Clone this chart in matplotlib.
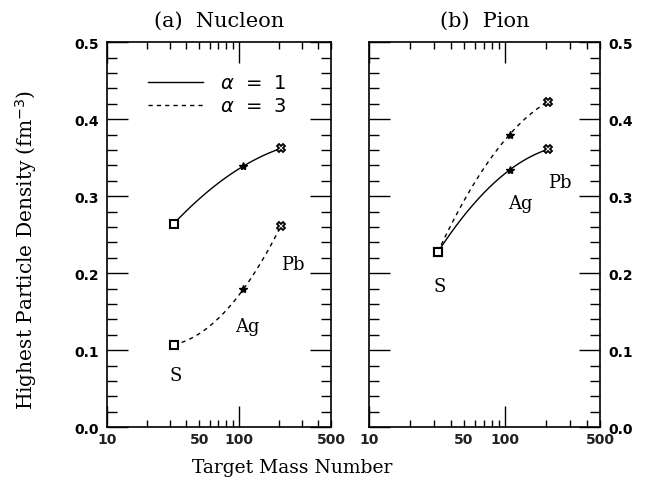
import numpy as np
import matplotlib
matplotlib.use("Agg")
import matplotlib.pyplot as plt
from matplotlib.ticker import FixedLocator, NullFormatter

targets = ["S", "Ag", "Pb"]
mass = [32, 108, 208]
nucleon_a1 = [0.264, 0.339, 0.362]
nucleon_a3 = [0.107, 0.179, 0.261]
pion_a1 = [0.227, 0.334, 0.361]
pion_a3 = [0.227, 0.380, 0.423]

x_major = [10, 100]
x_minor = [20, 30, 40, 50, 60, 70, 80, 90, 200, 300, 400, 500]
x_labels = [10, 50, 100, 500]

serif = ["DejaVu Serif"]
sans = ["DejaVu Sans"]

fig = plt.figure(figsize=(6.46, 4.81), dpi=100)
axL = fig.add_axes([0.1656, 0.110, 0.3468, 0.800])
axR = fig.add_axes([0.5712, 0.110, 0.3576, 0.800])


def smooth(ax, xs, ys, ls):
    lx = np.log10(xs)
    c = np.polyfit(lx, ys, 2)
    xx = np.linspace(lx[0], lx[-1], 100)
    ax.plot(10 ** xx, np.polyval(c, xx), color="black", lw=1.0, ls=ls)
    ax.plot(xs[0], ys[0], marker="s", ms=5.5, mfc="white", mec="black", mew=1.5, ls="none")
    ax.plot(xs[1], ys[1], marker="*", ms=6, color="black", ls="none")
    ax.plot(xs[2], ys[2], marker="X", ms=6, mfc="white", mec="black", mew=1.3, ls="none")


smooth(axL, mass, nucleon_a1, "-")
smooth(axL, mass, nucleon_a3, (0, (3, 3)))
smooth(axR, mass, pion_a1, "-")
smooth(axR, mass, pion_a3, (0, (3, 3)))

for ax in (axL, axR):
    ax.set_xscale("log")
    ax.set_xlim(10, 500)
    ax.set_ylim(0, 0.5)
    ax.xaxis.set_major_locator(FixedLocator(x_major))
    ax.xaxis.set_minor_locator(FixedLocator(x_minor))
    ax.xaxis.set_major_formatter(NullFormatter())
    ax.xaxis.set_minor_formatter(NullFormatter())
    ax.set_yticks(np.arange(0, 0.51, 0.1))
    ax.set_yticks(np.arange(0, 0.51, 0.02), minor=True)
    ax.tick_params(which="major", direction="in", length=15, width=1.0,
                   top=True, right=True, bottom=True, left=True)
    ax.tick_params(which="minor", direction="in", length=7, width=1.0,
                   top=True, right=True, bottom=True, left=True)
    ax.tick_params(axis="x", which="minor", length=5)
    for s in ax.spines.values():
        s.set_linewidth(1.2)
    for xv in x_labels:
        ax.text(xv, -0.013, str(xv), ha="center", va="top", fontsize=10,
                fontweight="bold", family=sans, transform=ax.get_xaxis_transform(),
                color="#222222")

ylabs = [f"{v:.1f}" for v in np.arange(0, 0.51, 0.1)]
axL.set_yticklabels(ylabs, fontsize=10, fontweight="bold", family=sans)
axL.tick_params(axis="y", labelleft=True, labelright=False, pad=6)
axR.tick_params(axis="y", labelleft=False, labelright=True, pad=6)
axR.set_yticklabels(ylabs, fontsize=10, fontweight="bold", family=sans)

axL.set_title("(a)  Nucleon", fontsize=15, family=serif, pad=12)
axR.set_title("(b)  Pion", fontsize=15, family=serif, pad=12)

axL.set_ylabel("Highest Particle Density (fm$^{-3}$)", fontsize=14.5, family=serif, labelpad=25)
axL.yaxis.label.set_y(0.462)
fig.text(0.452, 0.028, "Target Mass Number", ha="center", va="center", fontsize=13.5, family=serif)

# legend
axL.plot([20.5, 53.5], [0.448, 0.448], color="black", lw=1.0)
axL.plot([20.5, 53.5], [0.418, 0.418], color="black", lw=1.0, ls=(0, (3, 3)))
axL.text(72, 0.448, r"$\alpha$  =  1", fontsize=14, va="center", family=sans)
axL.text(72, 0.418, r"$\alpha$  =  3", fontsize=14, va="center", family=sans)

# labels
for ax, pos in ((axL, [(33, 0.068), (117, 0.131), (258, 0.212)]),
                (axR, [(33, 0.183), (129, 0.291), (254, 0.319)])):
    for t, (xv, yv) in zip(targets, pos):
        ax.text(xv, yv, t, fontsize=13, family=serif, ha="center", va="center")

fig.savefig("out.png", dpi=100)
